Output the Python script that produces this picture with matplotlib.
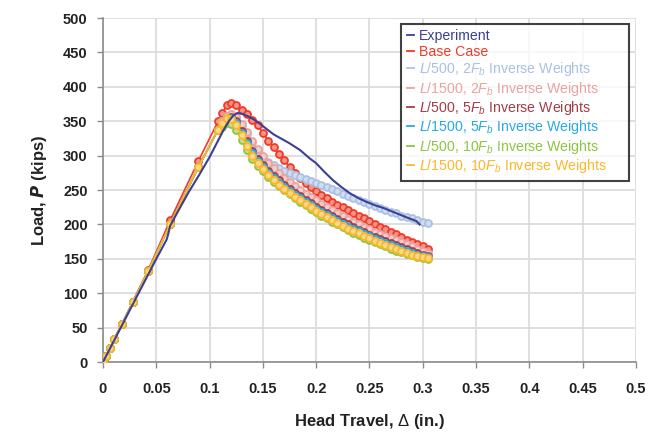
import matplotlib
matplotlib.use("Agg")
import matplotlib.pyplot as plt
from matplotlib.colors import to_rgb
from matplotlib.lines import Line2D

plt.rcParams['font.family'] = ['Liberation Sans', 'DejaVu Sans']
plt.rcParams['mathtext.fontset'] = 'custom'
plt.rcParams['mathtext.rm'] = 'Liberation Sans'
plt.rcParams['mathtext.it'] = 'Liberation Sans:italic'
plt.rcParams['mathtext.bf'] = 'Liberation Sans:bold'

# measured load vs head travel
exp_x = [0, 0.01, 0.02, 0.03, 0.04, 0.05, 0.0597, 0.0612, 0.063, 0.07, 0.08, 0.091,
         0.1, 0.108, 0.113, 0.118, 0.122, 0.126, 0.13, 0.135, 0.14, 0.145, 0.15, 0.16,
         0.175, 0.185, 0.194, 0.2, 0.208, 0.216, 0.224, 0.232, 0.24, 0.247, 0.255,
         0.263, 0.271, 0.279, 0.287, 0.294, 0.297]
exp_y = [0, 30, 60, 90, 120, 150, 178, 186, 198, 218, 246, 274, 298, 322, 337, 350,
         358, 362, 361, 358, 354, 349, 343, 331, 318, 308, 296, 289, 276, 264, 254,
         245, 238, 233, 228, 224, 219, 214, 209, 205, 200]

# model steps: loading branch (shared) and post-peak branch
asc_x = [0, 0.003, 0.0066, 0.0103, 0.018, 0.028, 0.0425, 0.063, 0.0894, 0.108]
asc_y = [0, 9, 20, 33, 55, 87, 132, 200, 283, 338]
base_asc_y = [0, 9, 20, 33, 56, 88, 134, 206, 292, 350]

desc_x = [0.112, 0.116, 0.12, 0.125, 0.13, 0.135, 0.14, 0.145, 0.15, 0.155, 0.16,
          0.165, 0.17, 0.175, 0.18, 0.185, 0.19, 0.195, 0.2, 0.205, 0.21, 0.215,
          0.22, 0.225, 0.23, 0.235, 0.24, 0.245, 0.25, 0.255, 0.26, 0.265, 0.27,
          0.275, 0.28, 0.285, 0.29, 0.295, 0.3, 0.305]

base_y = [362, 373, 377, 373, 366, 360, 352, 344, 333, 322, 312, 302, 293, 284, 275,
          267, 260, 254, 248, 243, 238, 233, 229, 225, 221, 217, 213, 209, 205, 201,
          197, 193, 189, 186, 182, 178, 175, 171, 168, 165]
l500_2fb = [350, 358, 360, 355, 344, 331, 318, 307, 298, 291, 286, 282, 278, 275, 272,
            269, 266, 263, 260, 257, 254, 251, 248, 245, 242, 239, 236, 233, 230, 227,
            224, 221, 218, 216, 213, 211, 209, 206, 204, 202]
l1500_2fb = [350, 358, 360, 356, 346, 334, 321, 309, 299, 290, 282, 275, 268, 262, 256,
             250, 245, 240, 235, 230, 225, 221, 216, 212, 208, 204, 200, 196, 193, 189,
             186, 183, 180, 177, 174, 171, 168, 165, 162, 159]
l500_5fb = [345, 354, 356, 350, 336, 321, 307, 295, 286, 278, 271, 264, 258, 252, 246,
            241, 236, 231, 226, 221, 217, 212, 208, 204, 200, 196, 192, 189, 185, 182,
            179, 176, 173, 170, 167, 164, 161, 158, 156, 154]
l1500_5fb = [345, 353, 355, 348, 333, 318, 304, 292, 283, 275, 268, 261, 255, 249, 243,
             238, 233, 228, 223, 218, 214, 209, 205, 201, 197, 193, 190, 186, 183, 179,
             176, 173, 170, 167, 164, 161, 159, 156, 154, 152]
l500_10fb = [342, 348, 346, 338, 323, 308, 295, 285, 277, 269, 262, 256, 250, 244, 238,
             233, 228, 223, 218, 213, 209, 204, 200, 196, 192, 188, 185, 181, 178, 174,
             171, 168, 165, 162, 160, 157, 155, 153, 151, 150]
l1500_10fb = [348, 355, 354, 345, 330, 314, 300, 289, 280, 272, 265, 258, 252, 246, 240,
              235, 230, 225, 220, 215, 211, 206, 202, 198, 194, 190, 187, 183, 180, 176,
              173, 170, 167, 164, 161, 159, 156, 154, 152, 151]

labels = ["Experiment", "Base Case",
          r"$L$/500, 2$F_b$ Inverse Weights",
          r"$L$/1500, 2$F_b$ Inverse Weights",
          r"$L$/500, 5$F_b$ Inverse Weights",
          r"$L$/1500, 5$F_b$ Inverse Weights",
          r"$L$/500, 10$F_b$ Inverse Weights",
          r"$L$/1500, 10$F_b$ Inverse Weights"]
colors = ["#3c3f96", "#ef3a26", "#a9c1e3", "#e9a3a0", "#a23d48", "#27a9e1",
          "#8dc63f", "#fbb72a"]
model_runs = [(base_asc_y, base_y), (asc_y, l500_2fb), (asc_y, l1500_2fb),
              (asc_y, l500_5fb), (asc_y, l1500_5fb), (asc_y, l500_10fb),
              (asc_y, l1500_10fb)]


def lighten(c, f=0.45):
    r, g, b = to_rgb(c)
    return (r + (1 - r) * f, g + (1 - g) * f, b + (1 - b) * f)


fig = plt.figure(figsize=(6.58, 4.41), dpi=100)
ax = fig.add_axes([0.1565, 0.179, 0.81, 0.78])

for i, (up, down) in enumerate(model_runs):
    c = colors[i + 1]
    ax.plot(asc_x + desc_x, up + down, color=c, lw=1.2, marker='o', ms=5,
            mec=c, mfc=lighten(c), mew=1.3, zorder=3 + i)

ax.plot(exp_x, exp_y, color=colors[0], lw=1.5, zorder=12)

ax.set_xlim(0, 0.5)
ax.set_ylim(0, 500)
ax.set_xticks([0, 0.05, 0.1, 0.15, 0.2, 0.25, 0.3, 0.35, 0.4, 0.45, 0.5])
ax.set_xticklabels(["0", "0.05", "0.1", "0.15", "0.2", "0.25", "0.3", "0.35",
                    "0.4", "0.45", "0.5"])
ax.set_yticks(range(0, 501, 50))
ax.grid(True, color="#dcdcdc", lw=1.3, zorder=0)
ax.set_axisbelow(True)

for s in ["top", "right"]:
    ax.spines[s].set_visible(False)
for s in ["left", "bottom"]:
    ax.spines[s].set_color("#8c8c8c")
    ax.spines[s].set_linewidth(1.2)

ax.tick_params(axis='both', direction='out', length=4, width=1, color="#8c8c8c",
               labelsize=10.5, labelcolor="#222222")
ax.tick_params(axis='x', pad=10)
ax.tick_params(axis='y', pad=7)
for t in ax.get_xticklabels() + ax.get_yticklabels():
    t.set_fontweight('bold')

ax.set_xlabel(r"Head Travel, $\Delta$ (in.)", fontsize=12, fontweight='bold',
              labelpad=12, color="#222222")
ax.set_ylabel(r"Load, $\mathbfit{P}$ (kips)", fontsize=12, fontweight='bold',
              labelpad=10, color="#222222")

handles = [Line2D([], [], color=c, lw=1.3) for c in colors]
leg = ax.legend(handles, labels, loc='upper left', mode='expand',
                bbox_to_anchor=(0.56, 0.5, 0.427, 0.484),
                fontsize=10.2, frameon=True, fancybox=False, handlelength=0.5,
                handletextpad=0.35, labelspacing=0.1, borderpad=0.4,
                borderaxespad=0)
leg.get_frame().set_edgecolor("#111111")
leg.get_frame().set_linewidth(1.5)
for txt, c in zip(leg.get_texts(), colors):
    txt.set_color(c)
leg.set_zorder(20)

fig.savefig("out.png", dpi=100)
